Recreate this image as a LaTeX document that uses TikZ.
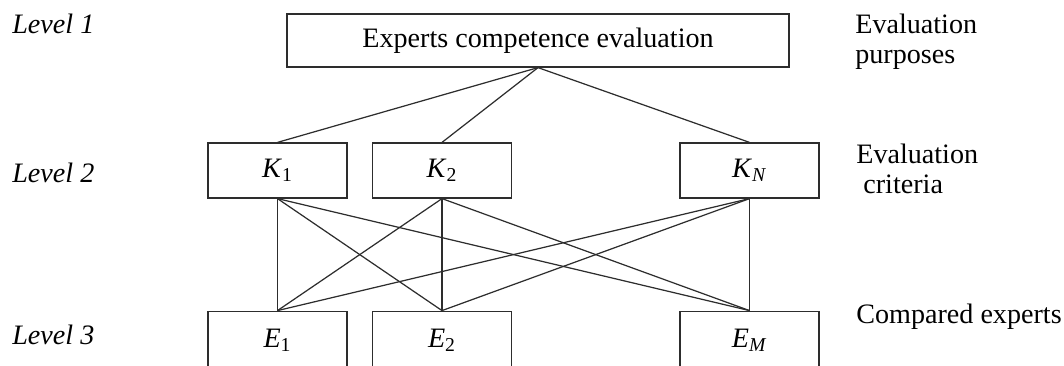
\documentclass[tikz,border=0pt]{standalone}
\usepackage{fontspec}
\setmainfont{Liberation Serif}
\usepackage{xcolor}
\usetikzlibrary{positioning}
\definecolor{linegray}{RGB}{45, 45, 45}

\begin{document}
\begin{tikzpicture}[
    x=0.02cm, y=-0.02cm,
    block/.style={rectangle, draw=linegray, line width=0.7pt, inner sep=0pt, minimum width=2.78cm, minimum height=1.1cm, font=\fontsize{16}{17}\selectfont},
    levellabel/.style={anchor=base west, inner sep=0pt, font=\fontsize{16}{17}\selectfont\itshape},
    sidelabel/.style={anchor=base west, inner sep=0pt, align=left, font=\fontsize{16}{17}\selectfont},
    link/.style={draw=linegray, line width=0.7pt}
]
    \useasboundingbox (0,0) rectangle (1064,365);

    % Nodes
    \node[block, minimum width=10.04cm, minimum height=1.06cm] (goal) at (538,40.5) {Experts competence evaluation};
    \node[block] (k1) at (277.5,170.5) {\textit{K}\textsubscript{1}};
    \node[block] (k2) at (442,170.5) {\textit{K}\textsubscript{2}};
    \node[block] (kn) at (749.5,170.5) {\textit{K}\textsubscript{\textit{N}}};
    \node[block, minimum height=1.16cm, below=2.24cm of k1] (e1) {\textit{E}\textsubscript{1}};
    \node[block, minimum height=1.16cm, below=2.24cm of k2] (e2) {\textit{E}\textsubscript{2}};
    \node[block, minimum height=1.16cm, below=2.24cm of kn] (em) {\textit{E}\textsubscript{\textit{M}}};

    % Labels
    \node[levellabel] (lev1) at (12,33) {Level 1};
    \node[levellabel] (lev2) at (12,182) {Level 2};
    \node[levellabel] (lev3) at (12,344) {Level 3};
    \node[sidelabel] (purp) at (855,63) {Evaluation\\purposes};
    \node[sidelabel] (crit) at (856,193) {Evaluation\\ \ criteria};
    \node[sidelabel] (comp) at (856,323) {Compared experts};

    % Paths
    \foreach \k in {k1,k2,kn}
        \draw[link] (goal.south) -- (\k.north);
    \foreach \k in {k1,k2,kn}
        \foreach \e in {e1,e2,em}
            \draw[link] (\k.south) -- (\e.north);
\end{tikzpicture}
\end{document}
